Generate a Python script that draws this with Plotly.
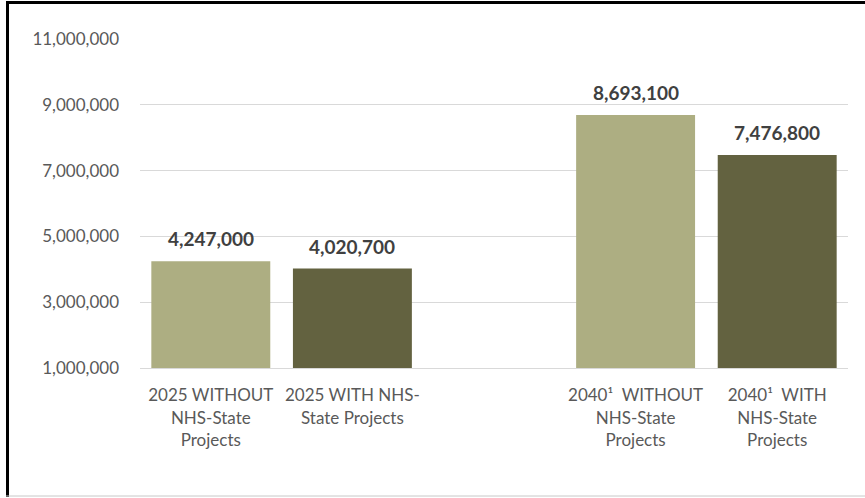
import plotly.graph_objects as go

# ---------------------------------------------------------------------------
# Data
# ---------------------------------------------------------------------------
categories = [
    "2025 WITHOUT<br>NHS-State<br>Projects",
    "2025 WITH NHS-<br>State Projects",
    " ",
    "2040\u00b9  WITHOUT<br>NHS-State<br>Projects",
    "2040\u00b9  WITH<br>NHS-State<br>Projects",
]
values = [4247000, 4020700, None, 8693100, 7476800]
bar_colors = ["#ADAE82", "#636240", "#ADAE82", "#ADAE82", "#636240"]

y_ticks = [1000000, 3000000, 5000000, 7000000, 9000000, 11000000]

# ---------------------------------------------------------------------------
# Layout geometry (pixels -> paper coords for the frame)
# ---------------------------------------------------------------------------
W, H = 865, 498
L, R, T, B = 140, 17, 39, 130
pw, ph = W - L - R, H - T - B


def px_x(x):
    return (x - L) / pw


def px_y(y):
    return (H - B - y) / ph


fig = go.Figure(
    go.Bar(
        x=categories,
        y=values,
        marker=dict(color=bar_colors, line=dict(width=0)),
        hoverinfo="skip",
    )
)

# value labels sit a little higher above the bars than plotly's "outside" text
for cat, v in zip(categories, values):
    if v is None:
        continue
    fig.add_annotation(
        x=cat, y=v, text=f"{v:,}",
        showarrow=False, yanchor="bottom", yshift=9,
        font=dict(family="Lato, sans-serif", size=19, color="#404040", weight="bold"),
    )

frame = [
    # top (thick black)
    dict(x0=px_x(6), x1=px_x(865), y0=px_y(2.5), y1=px_y(2.5), color="#000000", width=3),
    # left (thick black)
    dict(x0=px_x(7.5), x1=px_x(7.5), y0=px_y(1), y1=px_y(497), color="#000000", width=3),
    # bottom (thin gray)
    dict(x0=px_x(6), x1=px_x(865), y0=px_y(496), y1=px_y(496), color="#C8C8C8", width=1),
]
for f in frame:
    fig.add_shape(
        type="line", xref="paper", yref="paper",
        x0=f["x0"], x1=f["x1"], y0=f["y0"], y1=f["y1"],
        line=dict(color=f["color"], width=f["width"]),
    )

fig.update_layout(
    width=W,
    height=H,
    margin=dict(l=L, r=R, t=T, b=B),
    paper_bgcolor="#FFFFFF",
    plot_bgcolor="#FFFFFF",
    font=dict(family="Lato, sans-serif", size=17, color="#595959"),
    bargap=0.16,
    showlegend=False,
    xaxis=dict(
        type="category",
        showgrid=False,
        showline=True,
        linecolor="#D9D9D9",
        linewidth=1,
        ticks="",
        ticklabelstandoff=12,
        tickfont=dict(size=17, color="#595959"),
    ),
    yaxis=dict(
        range=[1000000, 11000000],
        tickvals=y_ticks,
        tickformat=",",
        showgrid=True,
        gridcolor="#D9D9D9",
        gridwidth=1,
        zeroline=False,
        showline=False,
        ticks="",
        ticklabelstandoff=20,
        tickfont=dict(size=17, color="#595959"),
    ),
)

# page body has a default 8px margin; drop it so the figure fills the window
fig.write_html(
    "out.html",
    config={"displayModeBar": False},
    post_script="document.body.style.margin='0';document.body.style.overflow='hidden';",
)
